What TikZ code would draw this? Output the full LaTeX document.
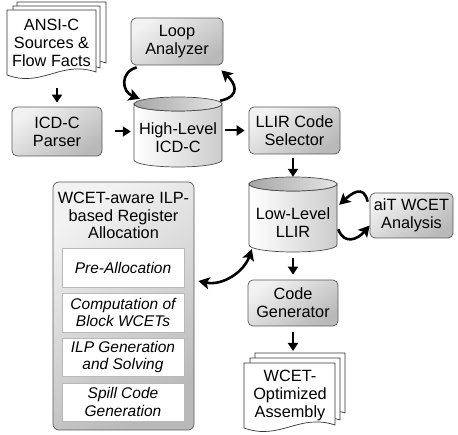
\documentclass[tikz,border=0pt]{standalone}
\usepackage{fontspec}
\setmainfont{Liberation Sans}
\usetikzlibrary{arrows.meta}
\newcommand{\docpage}[4]{%
  \draw[docline] (#1,{#2+#4}) -- (#1,#2) -- ({#1+#3},#2) -- ({#1+#3},{#2+#4-3})
    .. controls ({#1+0.6*#3},{#2+#4-15}) and ({#1+0.4*#3},{#2+#4+13}) .. (#1,{#2+#4}) -- cycle;}
\begin{document}
\begin{tikzpicture}[x=1pt,y=-1pt,
  txt/.style={font=\fontsize{16.3}{18}\selectfont, align=center, inner sep=0pt},
  procbox/.style={txt, draw=black!65, line width=0.7pt, rounded corners=5pt,
     top color=gray!10, bottom color=gray!55, shading angle=35},
  subbox/.style={draw=gray!55, fill=white, line width=0.6pt, minimum width=122pt,
     font=\fontsize{15.5}{17.5}\selectfont\itshape, align=center, inner sep=0pt},
  docline/.style={draw=black!80, fill=white, line width=0.7pt},
  cylline/.style={draw=black!70, line width=0.7pt},
  arr/.style={line width=2pt, -{Triangle[length=8pt,width=10pt]}},
  carr/.style={line width=2.6pt, -{Stealth[length=11pt,width=12pt,inset=2.5pt]}},
  darr/.style={line width=2.6pt, {Stealth[length=11pt,width=12pt,inset=2.5pt]}-{Stealth[length=11pt,width=12pt,inset=2.5pt]}}
]
\useasboundingbox (0,0) rectangle (458,435);

% ANSI-C document stack
\docpage{17}{2}{89}{64}
\docpage{13}{6}{87}{65}
\docpage{7}{10}{89}{65}
\node[txt, minimum width=89pt, minimum height=65pt] (ansi) at (51.5,42.5) {ANSI-C\\Sources \&\\Flow Facts};

% boxes
\node[procbox, minimum width=92pt, minimum height=47pt] (loop) at (177,41.5) {Loop\\Analyzer};
\node[procbox, minimum width=90pt, minimum height=49pt] (parser) at (57,131.5) {ICD-C\\Parser};
\node[procbox, minimum width=91pt, minimum height=47pt] (sel) at (294.5,130.5) {LLIR Code\\Selector};
\node[procbox, minimum width=83pt, minimum height=45pt] (ait) at (411.5,215.5) {aiT WCET\\Analysis};
\node[procbox, minimum width=90pt, minimum height=46pt] (cg) at (293,303) {Code\\Generator};

% High-Level cylinder
\shade[cylline, left color=white, right color=gray!40] (134,104) -- (134,160)
  arc[start angle=180, end angle=0, x radius=44, y radius=7] -- (222,104)
  arc[start angle=0, end angle=180, x radius=44, y radius=7] -- cycle;
\shade[cylline, left color=gray!70, right color=gray!20] (178,104) ellipse[x radius=44, y radius=7];
\node[minimum width=88pt, minimum height=70pt, inner sep=0pt] (hl) at (178,132) {};
\node[txt] (hltxt) at (178,138) {High-Level\\ICD-C};

% Low-Level cylinder
\shade[cylline, left color=white, right color=gray!40] (249,184) -- (249,245)
  arc[start angle=180, end angle=0, x radius=44, y radius=7] -- (337,184)
  arc[start angle=0, end angle=180, x radius=44, y radius=7] -- cycle;
\shade[cylline, left color=gray!70, right color=gray!20] (293,184) ellipse[x radius=44, y radius=7];
\node[minimum width=88pt, minimum height=75pt, inner sep=0pt] (ll) at (293,214.5) {};
\node[txt] (lltxt) at (293,223) {Low-Level\\LLIR};

% ILP register allocation box
\node[procbox, minimum width=141pt, minimum height=248pt, rounded corners=6pt] (ilp) at (123.5,306) {};
\node[txt, font=\fontsize{16.3}{17.5}\selectfont] (ilptitle) at (123.5,215.5) {WCET-aware ILP-\\based Register\\Allocation};
\node[subbox, minimum height=39pt] (pre) at (123,267.5) {Pre-Allocation};
\node[subbox, minimum height=39pt] (comp) at (123,312.5) {Computation of\\Block WCETs};
\node[subbox, minimum height=38pt] (ilpg) at (123,357) {ILP Generation\\and Solving};
\node[subbox, minimum height=38pt] (spill) at (123,402) {Spill Code\\Generation};

% Assembly document stack
\docpage{255}{353}{90}{63}
\docpage{250}{358}{90}{65}
\docpage{244}{363}{91}{65}
\coordinate (asmtop) at (293,353);
\node[txt, minimum width=91pt, minimum height=65pt] (asm) at (290,396) {WCET-\\Optimized\\Assembly};

% straight arrows
\draw[arr, shorten <=13pt, shorten >=4pt] (ansi.south -| parser.north) -- (parser.north);
\draw[arr, shorten <=13pt, shorten >=3pt] (parser.east) -- (parser.east -| hl.west);
\draw[arr, shorten <=3pt, shorten >=4pt] (hl.east |- sel.west) -- (sel.west);
\draw[arr, shorten <=4pt] (sel.south -| ll.north) -- (ll.north);
\draw[arr, shorten <=6pt, shorten >=5pt] (ll.south) -- (cg.north -| ll.south);
\draw[arr, shorten <=6pt, shorten >=2pt] (cg.south) -- (asmtop);

% curved arrows
\draw[carr] ([shift={(6,2)}]loop.south west) .. controls +(-17,5) and +(-18,-7) .. ([shift={(6,2)}]hl.north west);
\draw[carr] ([shift={(-2,4)}]hl.north east) .. controls +(22,-5) and +(13,12) .. ([shift={(-2,5)}]loop.south east);
\draw[carr] ([shift={(-2,9)}]ait.north west) .. controls +(-4,-18) and +(12,-11) .. ([shift={(2,28)}]ll.north east);
\draw[carr] ([shift={(1,-23)}]ll.south east) .. controls +(6,16) and +(-12,14) .. ([shift={(0,10)}]ait.west);
\draw[darr] ([shift={(4,-25)}]ilp.east) .. controls +(24,5) and +(-8,23) .. ([shift={(3,-3)}]ll.south west);
\end{tikzpicture}
\end{document}
